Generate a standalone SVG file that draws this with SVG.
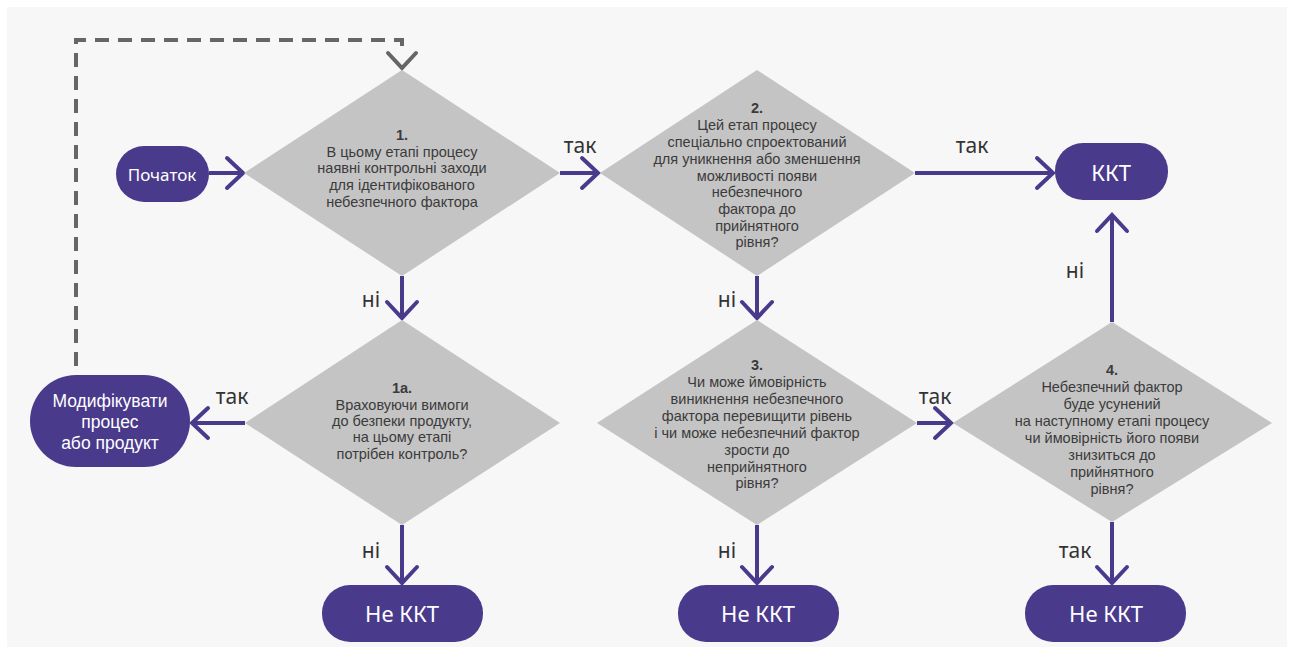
<svg xmlns="http://www.w3.org/2000/svg" width="1293" height="653" viewBox="0 0 1293 653">
<defs>
<style>
.bg{fill:#f7f7f7}
.dia{fill:#c4c4c4}
.pill{fill:#4a3a8c}
.dt{font-family:"Liberation Sans",Arial,sans-serif;font-size:14.5px;fill:#3b3b3b;text-anchor:middle;dominant-baseline:central}
.num{font-weight:bold}
.pt{font-family:"Noto Sans",sans-serif;fill:#ffffff;text-anchor:middle;dominant-baseline:central}
.mt{font-family:"Liberation Sans",Arial,sans-serif;font-size:17.5px;fill:#ffffff;text-anchor:middle;dominant-baseline:central}
.lbl{font-family:"Noto Sans",sans-serif;font-size:21px;fill:#333333;text-anchor:middle;dominant-baseline:central}
.conn{stroke:#4a3a8c;stroke-width:4;fill:none}
.dash{stroke:#666666;stroke-width:4;fill:none;stroke-dasharray:14 9}
</style>
<marker id="ah" markerUnits="userSpaceOnUse" markerWidth="40" markerHeight="40" refX="0" refY="0" viewBox="-20 -20 40 40" orient="auto" overflow="visible">
<path d="M-16 -15 L0 0 L-16 15" fill="none" stroke="#4a3a8c" stroke-width="4" stroke-linecap="round"/>
</marker>
</defs>
<rect width="1293" height="653" fill="#ffffff"/>
<rect class="bg" x="7" y="7" width="1280" height="640"/>

<g id="connectors">
<path class="dash" d="M402 50 V40 H76 V375" stroke-dashoffset="-4"/>
<path d="M388 53 L402 68 L416 53" fill="none" stroke="#666666" stroke-width="4" stroke-linecap="round"/>
<path class="conn" d="M209 173 H243" marker-end="url(#ah)"/>
<path class="conn" d="M402 276 V318" marker-end="url(#ah)"/>
<path class="conn" d="M560 173 H598" marker-end="url(#ah)"/>
<path class="conn" d="M245 423 H192" marker-end="url(#ah)"/>
<path class="conn" d="M915 173 H1053" marker-end="url(#ah)"/>
<path class="conn" d="M757 276 V318" marker-end="url(#ah)"/>
<path class="conn" d="M917 423 H951" marker-end="url(#ah)"/>
<path class="conn" d="M1112 322 V215" marker-end="url(#ah)"/>
<path class="conn" d="M402 525 V583" marker-end="url(#ah)"/>
<path class="conn" d="M757 525 V583" marker-end="url(#ah)"/>
<path class="conn" d="M1112 522 V583" marker-end="url(#ah)"/>
<text class="lbl" x="580" y="145">так</text>
<text class="lbl" x="972" y="145">так</text>
<text class="lbl" x="1075" y="270">ні</text>
<text class="lbl" x="371" y="299">ні</text>
<text class="lbl" x="727" y="299">ні</text>
<text class="lbl" x="232" y="396">так</text>
<text class="lbl" x="935" y="396">так</text>
<text class="lbl" x="371" y="550">ні</text>
<text class="lbl" x="727" y="550">ні</text>
<text class="lbl" x="1075" y="550">так</text>
</g>

<g id="start">
<rect class="pill" x="116" y="146" width="93" height="56" rx="28"/>
<text class="pt" x="162" y="174" font-size="17">Початок</text>
</g>

<g id="d1">
<polygon class="dia" points="402,70 560,173 402,276 244,173"/>
<text class="dt num" x="402" y="135">1.</text>
<text class="dt" x="402" y="152">В цьому етапі процесу</text>
<text class="dt" x="402" y="168">наявні контрольні заходи</text>
<text class="dt" x="402" y="185">для ідентифікованого</text>
<text class="dt" x="402" y="202">небезпечного фактора</text>
</g>

<g id="d2">
<polygon class="dia" points="757,70 915,173 757,276 600,173"/>
<text class="dt num" x="757" y="108">2.</text>
<text class="dt" x="757" y="125">Цей етап процесу</text>
<text class="dt" x="757" y="142">спеціально спроектований</text>
<text class="dt" x="757" y="159">для уникнення або зменшення</text>
<text class="dt" x="757" y="176">можливості появи</text>
<text class="dt" x="757" y="192">небезпечного</text>
<text class="dt" x="757" y="209">фактора до</text>
<text class="dt" x="757" y="226">прийнятного</text>
<text class="dt" x="757" y="242">рівня?</text>
</g>

<g id="kkt">
<rect class="pill" x="1055" y="143" width="113" height="57" rx="28"/>
<text class="pt" x="1111" y="172" font-size="22">ККТ</text>
</g>

<g id="modify">
<rect class="pill" x="30" y="375" width="160" height="92" rx="46"/>
<text class="mt" x="110" y="401">Модифікувати</text>
<text class="mt" x="110" y="422">процес</text>
<text class="mt" x="110" y="443">або продукт</text>
</g>

<g id="d1a">
<polygon class="dia" points="402,320 560,423 402,525 245,423"/>
<text class="dt num" x="402" y="388">1a.</text>
<text class="dt" x="402" y="405">Враховуючи вимоги</text>
<text class="dt" x="402" y="421">до безпеки продукту,</text>
<text class="dt" x="402" y="437">на цьому етапі</text>
<text class="dt" x="402" y="454">потрібен контроль?</text>
</g>

<g id="d3">
<polygon class="dia" points="757,320 917,423 757,525 597,423"/>
<text class="dt num" x="757" y="365">3.</text>
<text class="dt" x="757" y="382">Чи може ймовірність</text>
<text class="dt" x="757" y="399">виникнення небезпечного</text>
<text class="dt" x="757" y="416">фактора перевищити рівень</text>
<text class="dt" x="757" y="433">і чи може небезпечний фактор</text>
<text class="dt" x="757" y="450">зрости до</text>
<text class="dt" x="757" y="467">неприйнятного</text>
<text class="dt" x="757" y="483">рівня?</text>
</g>

<g id="d4">
<polygon class="dia" points="1112,322 1272,423 1112,522 953,423"/>
<text class="dt num" x="1112" y="370">4.</text>
<text class="dt" x="1112" y="387">Небезпечний фактор</text>
<text class="dt" x="1112" y="404">буде усунений</text>
<text class="dt" x="1112" y="421">на наступному етапі процесу</text>
<text class="dt" x="1112" y="438">чи ймовірність його появи</text>
<text class="dt" x="1112" y="455">знизиться до</text>
<text class="dt" x="1112" y="472">прийнятного</text>
<text class="dt" x="1112" y="489">рівня?</text>
</g>

<g id="nekkt1">
<rect class="pill" x="322" y="585" width="161" height="57" rx="28"/>
<text class="pt" x="402" y="613" font-size="22">Не ККТ</text>
</g>
<g id="nekkt2">
<rect class="pill" x="678" y="585" width="161" height="57" rx="28"/>
<text class="pt" x="758" y="613" font-size="22">Не ККТ</text>
</g>
<g id="nekkt3">
<rect class="pill" x="1025" y="585" width="161" height="57" rx="28"/>
<text class="pt" x="1106" y="613" font-size="22">Не ККТ</text>
</g>
</svg>
